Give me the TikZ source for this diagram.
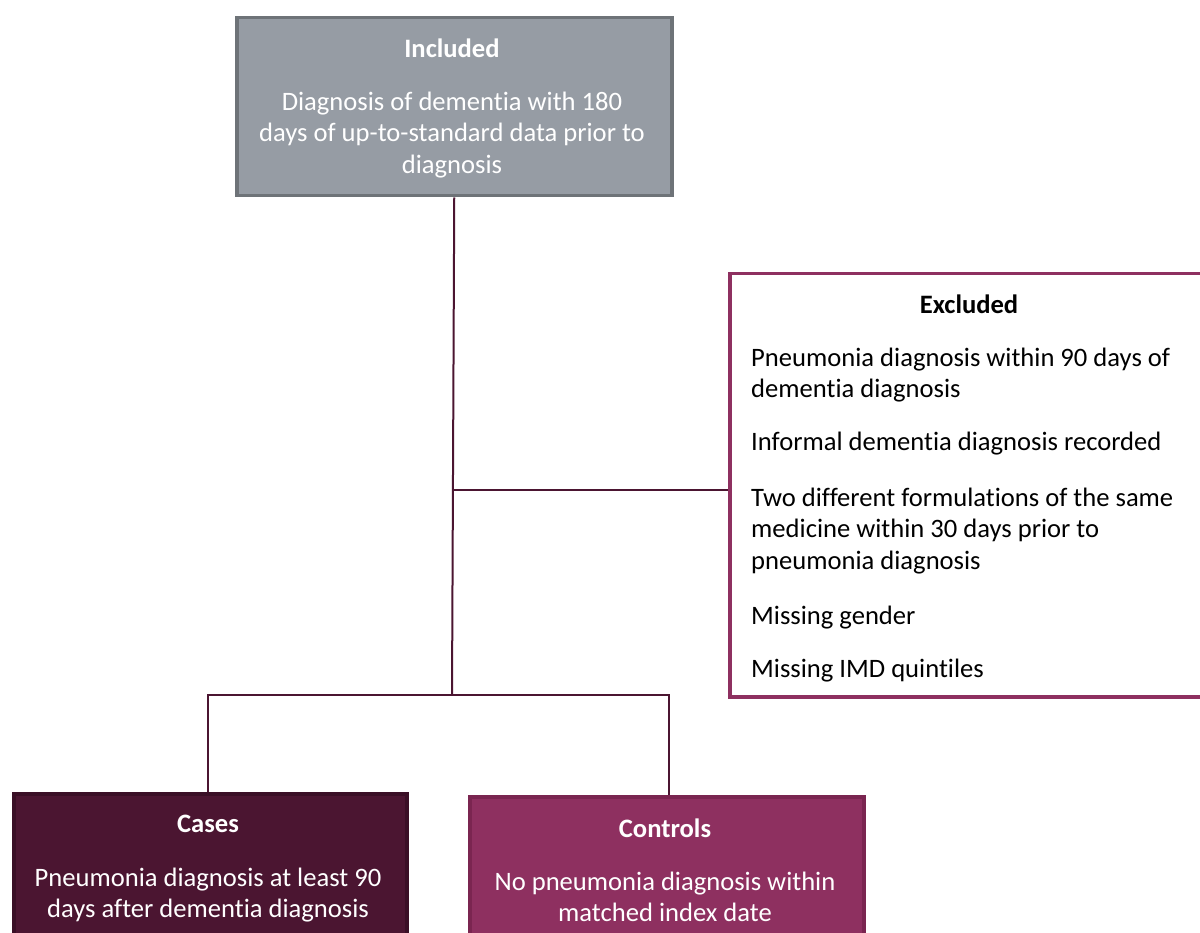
\documentclass[tikz,border=0pt]{standalone}
\usepackage{fontspec}
\setmainfont[Ligatures=NoCommon]{Carlito}
\definecolor{inclfill}{HTML}{969CA4}
\definecolor{incldraw}{HTML}{6E7378}
\definecolor{plum}{HTML}{8E3060}
\definecolor{plumdark}{HTML}{7A2550}
\definecolor{wine}{HTML}{4B1531}
\definecolor{winedark}{HTML}{3A0F26}
\definecolor{linkcol}{HTML}{4B1531}
\tikzset{
  box/.style={rectangle, line width=3.5pt, inner sep=0pt, anchor=north west},
  txt/.style={inner sep=0pt, font=\fontsize{26.6}{31.5}\selectfont},
  ttl/.style={txt, font=\fontsize{26.6}{31.5}\selectfont\bfseries},
  link/.style={draw=linkcol, line width=2pt},
}
\begin{document}
\begin{tikzpicture}[x=1pt,y=-1pt]
\useasboundingbox (0,0) rectangle (1200,933);
\clip (0,0) rectangle (1200,933);
% boxes
\node[box, draw=incldraw, fill=inclfill, minimum width=435pt, minimum height=178pt] (incl) at (235,16) {};
\node[box, draw=plum, fill=white, minimum width=500pt, minimum height=423pt] (excl) at (728,272) {};
\node[box, draw=winedark, fill=wine, minimum width=393pt, minimum height=170pt] (cases) at (12,792) {};
\node[box, draw=plumdark, fill=plum, minimum width=394pt, minimum height=170pt] (ctrl) at (468,795) {};
% texts
\node[ttl, text=white] (inclT) at (452,48) {Included};
\node[txt, text=white, align=center] (inclB) at (452,135) {Diagnosis of dementia with 180\\days of up-to-standard data prior to\\diagnosis};
\node[ttl] (exclT) at (969,304) {Excluded};
\node[txt, anchor=west, align=left] (ex1) at (751,375) {Pneumonia diagnosis within 90 days of\\dementia diagnosis};
\node[txt, anchor=west, align=left] (ex2) at (751,444) {Informal dementia diagnosis recorded};
\node[txt, anchor=west, align=left] (ex3) at (751,531) {Two different formulations of the same\\medicine within 30 days prior to\\pneumonia diagnosis};
\node[txt, anchor=west, align=left] (ex4) at (751,618) {Missing gender};
\node[txt, anchor=west, align=left] (ex5) at (751,671) {Missing IMD quintiles};
\node[ttl, text=white] (casesT) at (208,824) {Cases};
\node[txt, text=white, align=center] (casesB) at (208,895) {Pneumonia diagnosis at least 90\\days after dementia diagnosis};
\node[ttl, text=white] (ctrlT) at (665,828) {Controls};
\node[txt, text=white, align=center] (ctrlB) at (665,897) {No pneumonia diagnosis within\\matched index date};
% connectors
\coordinate (hub) at (452,695);
\coordinate (side) at (452,490);
\draw[link] (incl.south) -- (hub);
\draw[link] (side) -- (side -| excl.west);
\draw[link] (hub) -- (208,695) -- (208,792);
\draw[link] (hub) -- (669,695) -- (669,795);
\end{tikzpicture}
\end{document}
